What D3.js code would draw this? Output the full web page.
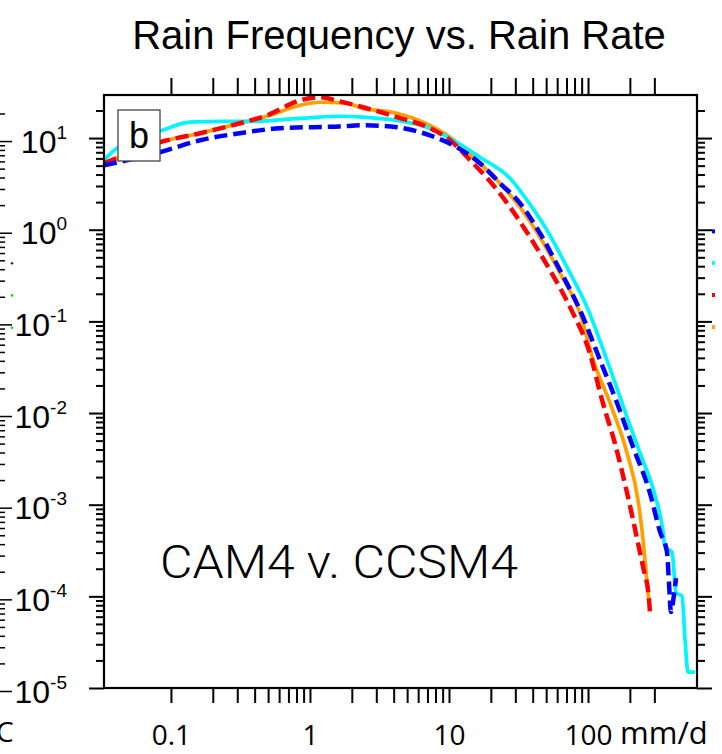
<!DOCTYPE html>
<html>
<head>
<meta charset="utf-8">
<script src="https://cdn.jsdelivr.net/npm/d3@7"></script>
<style>
  html, body { margin: 0; padding: 0; background: #fff; }
  svg { display: block; }
</style>
</head>
<body>
<svg id="chart" width="722" height="754"></svg>
<script>
// Rain rate (mm/day) and frequency (%) for each simulation
const camARate  = [0.033, 0.083, 0.162, 0.313, 0.491, 0.848, 1.18, 1.79, 2.41, 4.23, 6.50, 10.2, 14.9, 22.2, 32.4, 45.1, 62.9, 87.6, 109, 144, 191, 229, 249, 266, 275];
const camAFreq  = [5.31, 9.0, 11.3, 14.5, 17.3, 22.8, 24.6, 24.0, 21.1, 18.6, 14.9, 10.2, 6.18, 3.47, 1.76, 0.828, 0.336, 0.123, 0.0378, 0.0128, 0.00365, 0.00112, 0.000411, 0.000140, 0.0000845];

const ccsmARate = [0.033, 0.083, 0.162, 0.313, 0.491, 0.848, 1.18, 1.64, 2.41, 4.23, 7.30, 10.2, 14.2, 19.7, 27.5, 38.3, 53.3, 74.2, 103, 128, 156, 191, 237, 249, 275, 279];
const ccsmAFreq = [5.31, 9.0, 11.3, 14.5, 17.7, 25.8, 27.9, 25.1, 21.7, 16.9, 12.8, 9.46, 5.73, 3.38, 1.76, 0.828, 0.361, 0.143, 0.0450, 0.0128, 0.00470, 0.00134, 0.000297, 0.000209, 0.0000912, 0.0000658];

const camBRate  = [0.033, 0.0376, 0.043, 0.060, 0.083, 0.137, 0.225, 0.370, 0.848, 1.64, 2.41, 4.23, 7.30, 11.4, 16.7, 27.5, 36.4, 50.7, 70.6, 98.4, 137, 191, 237, 303, 347, 358, 402, 430, 474, 499, 524, 589];
const camBFreq  = [5.73, 7.0, 8.14, 10.2, 11.9, 14.9, 15.2, 15.2, 16.4, 17.3, 16.9, 15.6, 12.8, 9.0, 6.18, 3.64, 2.10, 0.987, 0.390, 0.143, 0.0378, 0.00902, 0.00365, 0.00127, 0.000503, 0.000345, 0.000304, 0.000109, 0.000101, 0.0000334, 0.0000149, 0.0000149];

const ccsmBRate = [0.033, 0.083, 0.162, 0.313, 0.608, 1.64, 2.41, 4.23, 7.30, 11.4, 16.7, 23.3, 32.4, 45.1, 62.9, 87.6, 122, 162, 211, 279, 330, 370, 383, 395, 415, 430];
const ccsmBFreq = [5.05, 7.0, 9.46, 11.3, 12.8, 13.4, 13.8, 13.1, 10.7, 7.94, 5.31, 3.21, 1.95, 0.916, 0.361, 0.1325, 0.0378, 0.0128, 0.00425, 0.00134, 0.000503, 0.000304, 0.000133, 0.0000675, 0.000103, 0.000158];

// Axis ticks
const xMajor = [0.1, 1, 10, 100];
const xMinor = [0.2, 0.3, 0.4, 0.5, 0.6, 0.7, 0.8, 0.9, 2, 3, 4, 5, 6, 7, 8, 9, 20, 30, 40, 50, 60, 70, 80, 90, 200, 300];
const xLabels = ["0.1", "1", "10", "100"];
const yMajor = [1e-5, 1e-4, 1e-3, 1e-2, 1e-1, 1, 10];
const yMinorFactors = [2, 3, 4, 5, 6, 7, 8, 9];

// Neighbouring panels: first values of the curves peeking in at the edges
const rightPanelStart = [0.96, 0.435, 0.194, 0.0866];
const rightPanelColors = ["#0000ff", "#00ffff", "#ff0000", "#ffa500"];
const leftPanelMarks = [0.465, 0.207, 0.092];
const leftPanelColors = ["#333333", "#22cc22", "#22cc22"];

const series = [
  { name: "CAM4 A",  rate: camARate,  freq: camAFreq,  color: "#ffa000", dash: null },
  { name: "CAM4 B",  rate: camBRate,  freq: camBFreq,  color: "#00f5ff", dash: null },
  { name: "CCSM4 A", rate: ccsmARate, freq: ccsmAFreq, color: "#ff0000", dash: "13,6" },
  { name: "CCSM4 B", rate: ccsmBRate, freq: ccsmBFreq, color: "#0000ff", dash: "13,6" }
];

const frame = { left: 104, right: 697, top: 95, bottom: 688 };

const x = d3.scaleLog().domain([0.033, 608]).range([frame.left, frame.right]);
const y = d3.scaleLog().domain([1e-5, 29.5]).range([frame.bottom, frame.top]);

const yMinor = [];
yMajor.forEach(m => yMinorFactors.forEach(f => { if (m * f < 29.5) yMinor.push(m * f); }));

const svg = d3.select("#chart");

// Title
svg.append("text")
  .attr("x", 399).attr("y", 49)
  .attr("text-anchor", "middle")
  .attr("font-family", "Liberation Sans, Arial, sans-serif")
  .attr("font-size", 40)
  .attr("fill", "#000")
  .text("Rain Frequency vs. Rain Rate");

// Ticks of the neighbouring left panel's right axis
const yPrev = y.copy().range([frame.bottom + 3, frame.top + 3]);
const prevG = svg.append("g");
prevG.append("g").call(d3.axisRight(yPrev).tickValues(yMajor).tickSize(12).tickSizeOuter(0).tickFormat(""));
prevG.append("g").call(d3.axisRight(yPrev).tickValues(yMinor).tickSize(5).tickSizeOuter(0).tickFormat(""));
prevG.selectAll(".domain").remove();
prevG.selectAll("line").attr("stroke", "#000").attr("stroke-width", 1.5);
svg.selectAll(".prevMark").data(leftPanelMarks).enter().append("circle")
  .attr("cx", 12).attr("cy", d => yPrev(d)).attr("r", 1.3)
  .attr("fill", (d, i) => leftPanelColors[i]);
svg.append("text")
  .attr("x", -4).attr("y", 742)
  .attr("font-family", "Open Sans, sans-serif")
  .attr("font-size", 28)
  .text("C");

// Curves
const plot = svg.append("g");
const line = d3.line()
  .x(d => x(d[0]))
  .y(d => y(d[1]))
  .curve(d3.curveMonotoneX);

series.forEach(s => {
  const pts = s.rate.map((r, i) => [r, s.freq[i]]);
  plot.append("path")
    .datum(pts)
    .attr("d", line)
    .attr("fill", "none")
    .attr("stroke", s.color)
    .attr("stroke-width", s.dash ? 4.5 : 3.7)
    .attr("stroke-dasharray", s.dash)
    .attr("stroke-linejoin", "round");
});

// Axes (ticks outward on all four sides)
function styleAxis(g) {
  g.selectAll(".domain").remove();
  g.selectAll("line").attr("stroke", "#000").attr("stroke-width", 2);
}

const bottomG = svg.append("g").attr("transform", `translate(0,${frame.bottom})`);
const bottomMajor = bottomG.append("g").call(d3.axisBottom(x).tickValues(xMajor).tickSize(15).tickSizeOuter(0)
  .tickPadding(28).tickFormat((d, i) => xLabels[i]));
bottomG.append("g").call(d3.axisBottom(x).tickValues(xMinor).tickSize(15).tickSizeOuter(0).tickFormat(""));
styleAxis(bottomG);
bottomMajor.selectAll(".tick text")
  .attr("font-family", "Open Sans, sans-serif")
  .attr("font-size", 28)
  .attr("fill", "#000")
  .attr("dy", "0.5em");
svg.append("text")
  .attr("x", 620).attr("y", 744)
  .attr("font-family", "Open Sans, sans-serif")
  .attr("font-size", 31)
  .attr("fill", "#000")
  .text("mm/d");

const topG = svg.append("g").attr("transform", `translate(0,${frame.top})`);
topG.call(d3.axisTop(x).tickValues(xMajor.concat(xMinor)).tickSize(17).tickSizeOuter(0).tickFormat(""));
styleAxis(topG);

const leftG = svg.append("g").attr("transform", `translate(${frame.left},0)`);
const leftMajor = leftG.append("g").call(d3.axisLeft(y).tickValues(yMajor).tickSize(15).tickSizeOuter(0).tickPadding(22));
leftG.append("g").call(d3.axisLeft(y).tickValues(yMinor).tickSize(8).tickSizeOuter(0).tickFormat(""));
styleAxis(leftG);
leftMajor.selectAll(".tick text").each(function(d) {
  const t = d3.select(this);
  t.text(null)
    .attr("font-family", "Liberation Sans, Arial, sans-serif")
    .attr("font-size", 32)
    .attr("fill", "#000")
    .attr("dy", null)
    .attr("y", 14);
  t.append("tspan").text("10");
  t.append("tspan").attr("dy", -14).attr("font-size", 19).text(Math.round(Math.log10(d)));
});

const rightG = svg.append("g").attr("transform", `translate(${frame.right},0)`);
rightG.append("g").call(d3.axisRight(y).tickValues(yMajor).tickSize(15).tickSizeOuter(0).tickFormat(""));
rightG.append("g").call(d3.axisRight(y).tickValues(yMinor).tickSize(8).tickSizeOuter(0).tickFormat(""));
styleAxis(rightG);

svg.selectAll(".nextMark").data(rightPanelStart).enter().append("rect")
  .attr("x", 712).attr("y", d => y(d) - 2).attr("width", 3).attr("height", 4)
  .attr("fill", (d, i) => rightPanelColors[i]);

// Plot frame
svg.append("rect")
  .attr("x", frame.left).attr("y", frame.top)
  .attr("width", frame.right - frame.left).attr("height", frame.bottom - frame.top)
  .attr("fill", "none").attr("stroke", "#000").attr("stroke-width", 2.2);

// Panel label
svg.append("rect")
  .attr("x", 118).attr("y", 110).attr("width", 42).attr("height", 51)
  .attr("fill", "#fff").attr("stroke", "#444").attr("stroke-width", 1.3);
svg.append("text")
  .attr("x", 139).attr("y", 148)
  .attr("text-anchor", "middle")
  .attr("font-family", "Liberation Sans, Arial, sans-serif")
  .attr("font-size", 36)
  .attr("fill", "#000")
  .text("b");

// Experiment annotation
svg.append("text")
  .attr("x", 160).attr("y", 578)
  .attr("font-family", "Roboto, sans-serif")
  .attr("font-weight", 300)
  .attr("font-size", 46)
  .attr("textLength", 358)
  .attr("lengthAdjust", "spacingAndGlyphs")
  .attr("fill", "#000")
  .text("CAM4 v. CCSM4");
</script>
</body>
</html>
